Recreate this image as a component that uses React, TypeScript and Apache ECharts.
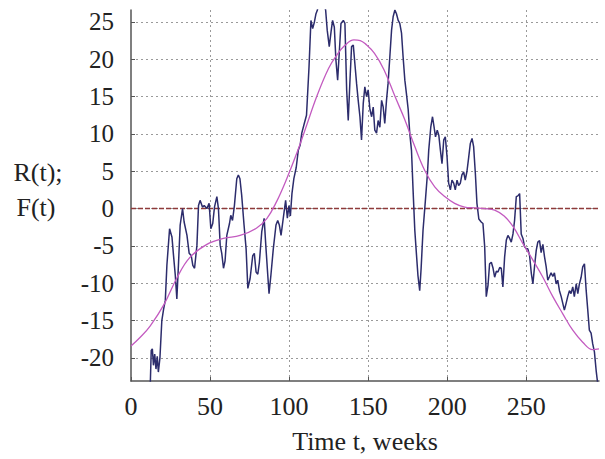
import React, { useEffect, useRef } from "react";
import * as echarts from "echarts";

// R(t): observed series [t (weeks), value]
const seriesR: [number, number][] = [
  [12.2, -23.5], [12.8, -19], [13.5, -18.8], [14.2, -21], [15, -19.5], [15.8, -21.5], [16.6, -19.8], [17.3, -21.9],
  [18.3, -20], [19.5, -15], [20.6, -13.5], [21.7, -12.3], [22.7, -7.6], [24.4, -2.7], [25.9, -3.8], [26.9, -6.3],
  [28, -8.9], [29, -12.1], [30, -7.6], [31.1, -2.2], [32.6, 0], [33.6, -1.8], [35.4, -3.6], [36.8, -6], [38.1, -6.3],
  [39.1, -7.6], [40.2, -8], [41.7, -4.9], [42.7, 0.4], [43.7, 1.1], [45.2, 0.2], [46.3, 0.4], [48, 0], [49.4, 0.7],
  [50.5, -2.7], [51.7, -2], [52.8, 0.2], [54.3, 1.6], [55.3, 0], [56.4, -4.9], [57.4, -6], [58.5, -8], [59.5, -7],
  [60.6, -3.6], [62.3, -2], [63.1, -0.9], [64.2, -1.6], [65.4, 0.4], [66.9, 4], [67.9, 4.5], [68.9, 4], [70, 1.8],
  [71.5, -2.2], [72.8, -5.4], [73.9, -10.7], [75.3, -9.4], [77, -6.3], [78, -6], [79.1, -8.5], [80.2, -8.8],
  [81.2, -7.2], [82.7, -3.1], [84.2, -1.3], [85.4, -5.4], [86.5, -8.9], [87.3, -11.4], [88.5, -8.9], [90, -5.4],
  [91.7, -2.2], [92.8, -1.6], [93.8, -2.2], [94.9, -3.6], [96.3, -1.3], [97.8, 1.1], [98.9, -1.3], [99.9, 0.4],
  [100.8, -1], [101.8, 2], [103, 4], [104.5, 5.5], [105.8, 7.8], [107, 8.5], [108, 10.1], [109.6, 11.4], [111, 12.5],
  [112.6, 19], [113.8, 25.2], [114.9, 24.1], [116, 25], [117, 26.1], [117.9, 26.6], [119, 28], [120.5, 28.5],
  [122, 27.5], [123.1, 26.6], [124.1, 23.9], [125.4, 21.7], [126.6, 23.8], [127.5, 25.2], [128.6, 24.3],
  [129.6, 19.9], [130.7, 17.2], [131.7, 20.8], [132.8, 24.8], [134.3, 25.2], [135.3, 24.8], [136.4, 15.9],
  [137.4, 11.8], [138.5, 17.2], [139.5, 21.7], [140.6, 21.9], [141.6, 19.4], [142.7, 16.7], [143.7, 14.5],
  [144.8, 12.3], [145.8, 9.2], [146.9, 14.1], [147.9, 16.3], [149, 15], [150, 15.9], [151.1, 13.3], [152.2, 12.3],
  [153.2, 13.6], [154.2, 10.5], [155.3, 10.1], [156.3, 11.8], [157.4, 10.9], [158.5, 14.5], [159.5, 13.6],
  [160.5, 11.4], [161.6, 14.5], [162.6, 16.8], [163.7, 20.3], [164.8, 23.9], [165.8, 25.7], [166.9, 26.6],
  [167.9, 26.1], [169, 25.2], [170, 24.8], [171.1, 23.5], [172.1, 20.3], [173.2, 17.2], [174.2, 15.4], [175.3, 13.3],
  [176.3, 10.1], [177.4, 7.8], [178.4, 2.5], [179.5, -2.9], [180.5, -6], [181.5, -9], [182.6, -11], [183.5, -8],
  [184.7, -2.9], [186.2, 1.1], [187.5, 4.7], [188.3, 7.8], [189.6, 10.9], [190.7, 12.3], [191.7, 10.9], [192.6, 9.6],
  [193.7, 10.5], [194.7, 9.8], [195.7, 7.8], [196.7, 6], [197.8, 9.2], [198.8, 9.6], [199.9, 6.9], [200.9, 3.4],
  [202, 2.5], [203, 3.8], [204.1, 3.4], [205.1, 2.5], [206.2, 3.8], [207.2, 3.1], [208.3, 3.4], [209.3, 4.5],
  [210.4, 4.9], [211.4, 3.8], [212.5, 5], [213.6, 6.9], [214.6, 8.7], [215.7, 9.4], [216.7, 8.3], [217.8, 4.7],
  [218.8, 0.7], [220, -1.4], [221.5, -1.8], [222.6, -2], [223.7, -5.1], [224.7, -11.8], [225.8, -10.3],
  [226.8, -7.4], [227.9, -7.2], [229, -8], [230, -9.2], [231.1, -8.4], [232.1, -8.5], [233.2, -7.9], [234.2, -8],
  [235.2, -10.5], [236.3, -6.5], [237.4, -4.2], [238.4, -3.6], [239.5, -4], [240.5, -4.5], [241.6, -3.4],
  [242.6, -1.6], [243.7, 1.6], [244.7, 1.7], [245.8, 2], [246.8, -3.4], [247.9, -4], [248.9, -5.1], [250, -5.4],
  [251, -5.4], [252.1, -6.3], [253.2, -8.7], [254.2, -10.1], [255.3, -7.6], [256.3, -5.6], [257.3, -4.5],
  [258.4, -4.3], [259.4, -5.9], [260.5, -4.8], [261.5, -6.4], [262.6, -7.8], [263.6, -9.6], [264.7, -9.1],
  [265.7, -8.6], [266.8, -9.1], [267.8, -8.6], [268.9, -10.1], [269.9, -9.6], [271, -11], [272.1, -11.8],
  [273.1, -12.7], [274.1, -13.6], [275.2, -12.7], [276.2, -11.8], [277.3, -11], [278.3, -11.4], [279.4, -10.5],
  [280.4, -11.8], [281.6, -10.1], [282.6, -11.4], [283.6, -10.1], [284.7, -9.2], [285.7, -7.8], [286.8, -7.4],
  [287.9, -11], [288.9, -13.6], [289.9, -16.3], [291, -16.7], [292, -18.1], [293.1, -19.2], [294.2, -21.7],
  [295.2, -23.5],
];

// F(t): smooth fitted trend [t, value]
const seriesF: [number, number][] = [
  [0, -18.4], [6, -17.2], [12.2, -15.7], [21, -12.8], [29, -9.3], [37, -6.6], [48, -4.8], [58.5, -4.0],
  [69, -3.6], [79.5, -2.6], [86, -1.3], [92, 0.9], [98.5, 4], [105, 7.5], [110, 10.5], [118, 15.3], [125, 18.8],
  [130, 20.5], [135, 21.8], [141, 22.6], [145, 22.5], [148, 22.1], [154, 20.8], [160, 18.6], [167, 15],
  [173, 12], [179.5, 8.3], [185.8, 5.1], [192.1, 2.9], [198.4, 1.6], [204.7, 0.7], [211, 0.2], [217.4, 0.1],
  [223.7, 0], [230, -0.2], [236, -1], [241.6, -2.4], [247.9, -4.7], [254.2, -6.9], [260.5, -9.2], [266.8, -11.8],
  [273.1, -14.1], [279.4, -16.3], [285.7, -17.9], [292, -18.9], [296, -18.8],
];

// Zero reference line
const zeroLine: [number, number][] = [[0, 0], [296, 0]];

const xMin = 0;
const xMax = 296;
const xInterval = 50;
const yMin = -23.1;
const yMax = 26.6;
const xAxisTitle = "Time t, weeks";
const yAxisTitleLines = ["R(t);", "F(t)"];

const FONT = "'Liberation Serif', 'DejaVu Serif', serif";

export default function App() {
  const ref = useRef<HTMLDivElement>(null);
  useEffect(() => {
    if (!ref.current) return;
    const chart = echarts.init(ref.current, undefined, { renderer: "svg" });
    const gridLine = { color: "#9a9a9a", type: [2, 3] as any, width: 1 };
    chart.setOption({
      animation: false,
      backgroundColor: "#ffffff",
      grid: { left: 131, right: 6, top: 10, bottom: 78, containLabel: false },
      xAxis: {
        type: "value",
        min: xMin,
        max: xMax,
        interval: xInterval,
        axisLine: { show: true, onZero: false, lineStyle: { color: "#555", width: 1.5 } },
        axisTick: { show: true, inside: true, length: 4, lineStyle: { color: "#555" } },
        axisLabel: {
          fontFamily: FONT, fontSize: 26, color: "#222", margin: 12,
          showMaxLabel: false,
        },
        splitLine: { show: true, showMinLine: false, showMaxLine: false, lineStyle: gridLine },
        name: xAxisTitle,
        nameLocation: "middle",
        nameGap: 47,
        nameTextStyle: { fontFamily: FONT, fontSize: 26, color: "#222" },
      },
      yAxis: {
        type: "value",
        min: yMin,
        max: yMax,
        splitNumber: 10,
        minInterval: 5,
        maxInterval: 5,
        axisLine: { show: true, onZero: false, lineStyle: { color: "#555", width: 1.5 } },
        axisTick: { show: true, inside: true, length: 4, lineStyle: { color: "#555" } },
        axisLabel: {
          fontFamily: FONT, fontSize: 25, color: "#222", margin: 17,
          showMinLabel: false, showMaxLabel: false,
        },
        splitLine: { show: true, showMinLine: false, showMaxLine: false, lineStyle: gridLine },
      },
      graphic: [
        {
          type: "text", x: 38, y: 172,
          style: { text: yAxisTitleLines[0], font: `26px ${FONT}`, fill: "#222", textAlign: "center", textVerticalAlign: "middle" },
        },
        {
          type: "text", x: 36, y: 207,
          style: { text: yAxisTitleLines[1], font: `26px ${FONT}`, fill: "#222", textAlign: "center", textVerticalAlign: "middle" },
        },
      ],
      series: [
        {
          name: "zero",
          type: "line",
          data: zeroLine,
          showSymbol: false,
          symbol: "none",
          z: 1,
          lineStyle: { color: "#8e3a3a", width: 1.6, type: [5, 2] },
        },
        {
          name: "R(t)",
          type: "line",
          data: seriesR,
          showSymbol: false,
          symbol: "none",
          clip: true,
          z: 2,
          lineStyle: { color: "#2c2c6c", width: 1.5 },
        },
        {
          name: "F(t)",
          type: "line",
          data: seriesF,
          showSymbol: false,
          symbol: "none",
          smooth: 0.4,
          clip: true,
          z: 3,
          lineStyle: { color: "#c35bc0", width: 1.3 },
        },
      ],
    });
    return () => chart.dispose();
  }, []);
  return (
    <div
      ref={ref}
      style={{ position: "fixed", left: 0, top: 0, width: 605, height: 459, background: "#fff" }}
    />
  );
}
